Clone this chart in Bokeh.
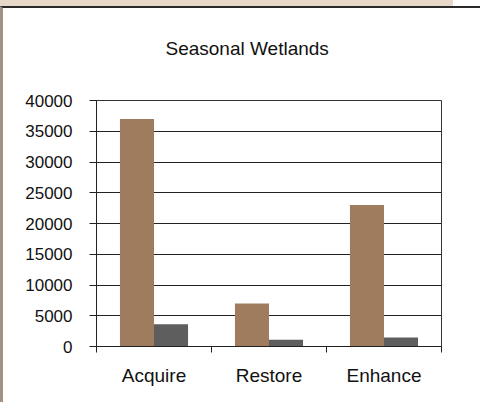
from bokeh.plotting import figure
from bokeh.models import ColumnDataSource, FixedTicker, Range1d, Title
from bokeh.transform import dodge
from bokeh.embed import file_html
from bokeh.resources import INLINE

title_text = "Seasonal Wetlands"
categories = ["Acquire", "Restore", "Enhance"]
series_a = [37000, 7000, 23000]
series_b = [3600, 1100, 1450]
y_ticks = [0, 5000, 10000, 15000, 20000, 25000, 30000, 35000, 40000]

src = ColumnDataSource(dict(
    pos=[i + 0.5 for i in range(len(categories))],
    a=series_a,
    b=series_b,
))

p = figure(width=480, height=396, output_backend="svg", toolbar_location=None,
           x_range=Range1d(0, len(categories)), y_range=Range1d(0, 40000),
           min_border_left=93, min_border_right=42, min_border_top=92,
           min_border_bottom=58)
p.background_fill_color = "white"
p.border_fill_color = "white"
p.outline_line_color = "#333333"
p.outline_line_width = 1
p.styles = {
    "margin-top": "6px",
    "border-top": "2px solid #2a2a2a",
    "border-left": "3px solid #A39284",
    "box-shadow": "-27px -6px 0 0 #E8D8CA",
}

p.vbar(x=dodge("pos", -0.148, range=p.x_range), top="a", width=0.296, source=src,
       fill_color="#A07C5E", line_color=None)
p.vbar(x=dodge("pos", 0.148, range=p.x_range), top="b", width=0.296, source=src,
       fill_color="#5E5E5E", line_color=None)

# x axis: labels at centres, ticks at category boundaries
xt = FixedTicker(ticks=[i + 0.5 for i in range(len(categories))],
                 minor_ticks=list(range(len(categories) + 1)))
p.xaxis.ticker = xt
p.xaxis.major_label_overrides = {i + 0.5: c for i, c in enumerate(categories)}
p.xaxis.major_tick_out = 0
p.xaxis.major_tick_in = 0
p.xaxis.minor_tick_out = 6
p.xaxis.minor_tick_in = 0
p.xaxis.minor_tick_line_color = "#222222"
p.xaxis.axis_line_color = "#222222"
p.xaxis.major_label_standoff = 12
p.xaxis.major_label_text_font = "Liberation Sans"
p.xaxis.major_label_text_font_size = "19px"
p.xaxis.major_label_text_color = "#111111"
p.xgrid.visible = False

p.yaxis.ticker = FixedTicker(ticks=y_ticks)
p.yaxis.major_tick_out = 7
p.yaxis.major_tick_in = 0
p.yaxis.minor_tick_line_color = None
p.yaxis.axis_line_color = "#222222"
p.yaxis.major_tick_line_color = "#222222"
p.yaxis.major_label_standoff = 17
p.yaxis.major_label_text_font = "Liberation Sans"
p.yaxis.major_label_text_font_size = "17px"
p.yaxis.major_label_text_color = "#111111"
p.ygrid.ticker = FixedTicker(ticks=y_ticks)
p.ygrid.grid_line_color = "#222222"
p.ygrid.grid_line_alpha = 1

p.title.text = title_text
p.title.align = "left"
p.title.offset = 69
p.title.standoff = 0
p.title.text_font = "Liberation Sans"
p.title.text_font_size = "19px"
p.title.text_font_style = "normal"
p.title.text_color = "#111111"

# empty spacer title between the main title and the plot frame
p.add_layout(Title(text=" ", text_font_size="1px", standoff=39), "above")

open("out.html", "w").write(file_html(p, INLINE))
